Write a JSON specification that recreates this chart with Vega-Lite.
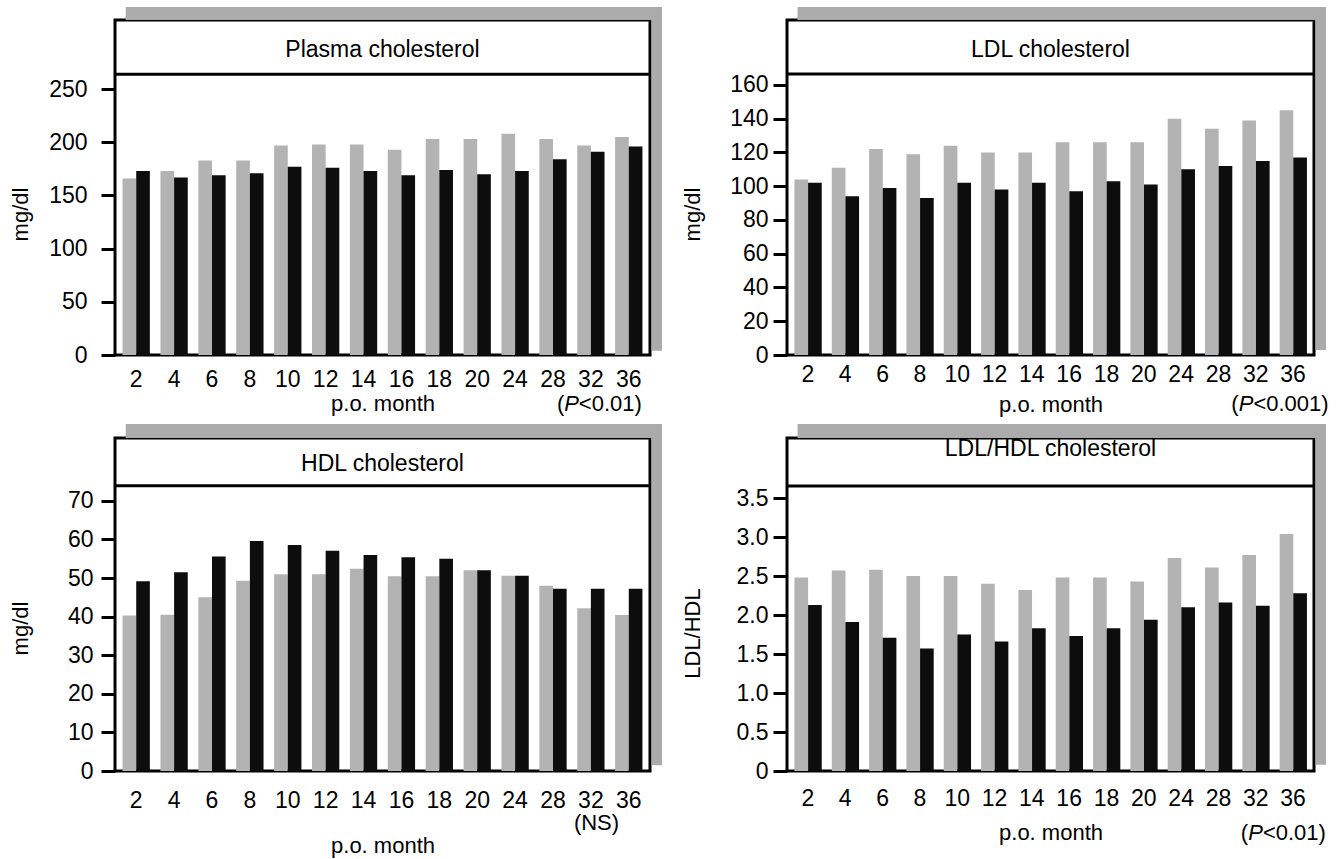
{
  "$schema": "https://vega.github.io/schema/vega-lite/v6.json",
  "background": "white",
  "padding": {"left": 7, "top": 5, "right": 5, "bottom": 5},
  "columns": 2,
  "spacing": {"row": 5, "column": 15},
  "config": {
    "view": {"stroke": "#000", "strokeWidth": 3},
    "axis": {"labelFont": "Liberation Sans", "titleFont": "Liberation Sans", "labelFontSize": 23, "titleFontSize": 22, "titleFontWeight": "normal", "labelColor": "#000", "titleColor": "#000", "tickColor": "#000", "grid": false},
    "text": {"font": "Liberation Sans", "fontSize": 22, "color": "#000", "baseline": "middle"}
  },
  "datasets": {
    "one": [{}],
    "plasma": [
      {"month": "2", "group": "A", "value": 166}, {"month": "2", "group": "B", "value": 173},
      {"month": "4", "group": "A", "value": 173}, {"month": "4", "group": "B", "value": 167},
      {"month": "6", "group": "A", "value": 183}, {"month": "6", "group": "B", "value": 169},
      {"month": "8", "group": "A", "value": 183}, {"month": "8", "group": "B", "value": 171},
      {"month": "10", "group": "A", "value": 197}, {"month": "10", "group": "B", "value": 177},
      {"month": "12", "group": "A", "value": 198}, {"month": "12", "group": "B", "value": 176},
      {"month": "14", "group": "A", "value": 198}, {"month": "14", "group": "B", "value": 173},
      {"month": "16", "group": "A", "value": 193}, {"month": "16", "group": "B", "value": 169},
      {"month": "18", "group": "A", "value": 203}, {"month": "18", "group": "B", "value": 174},
      {"month": "20", "group": "A", "value": 203}, {"month": "20", "group": "B", "value": 170},
      {"month": "24", "group": "A", "value": 208}, {"month": "24", "group": "B", "value": 173},
      {"month": "28", "group": "A", "value": 203}, {"month": "28", "group": "B", "value": 184},
      {"month": "32", "group": "A", "value": 197}, {"month": "32", "group": "B", "value": 191},
      {"month": "36", "group": "A", "value": 205}, {"month": "36", "group": "B", "value": 196}
    ],
    "ldl": [
      {"month": "2", "group": "A", "value": 104}, {"month": "2", "group": "B", "value": 102},
      {"month": "4", "group": "A", "value": 111}, {"month": "4", "group": "B", "value": 94},
      {"month": "6", "group": "A", "value": 122}, {"month": "6", "group": "B", "value": 99},
      {"month": "8", "group": "A", "value": 119}, {"month": "8", "group": "B", "value": 93},
      {"month": "10", "group": "A", "value": 124}, {"month": "10", "group": "B", "value": 102},
      {"month": "12", "group": "A", "value": 120}, {"month": "12", "group": "B", "value": 98},
      {"month": "14", "group": "A", "value": 120}, {"month": "14", "group": "B", "value": 102},
      {"month": "16", "group": "A", "value": 126}, {"month": "16", "group": "B", "value": 97},
      {"month": "18", "group": "A", "value": 126}, {"month": "18", "group": "B", "value": 103},
      {"month": "20", "group": "A", "value": 126}, {"month": "20", "group": "B", "value": 101},
      {"month": "24", "group": "A", "value": 140}, {"month": "24", "group": "B", "value": 110},
      {"month": "28", "group": "A", "value": 134}, {"month": "28", "group": "B", "value": 112},
      {"month": "32", "group": "A", "value": 139}, {"month": "32", "group": "B", "value": 115},
      {"month": "36", "group": "A", "value": 145}, {"month": "36", "group": "B", "value": 117}
    ],
    "hdl": [
      {"month": "2", "group": "A", "value": 40.3}, {"month": "2", "group": "B", "value": 49.2},
      {"month": "4", "group": "A", "value": 40.5}, {"month": "4", "group": "B", "value": 51.5},
      {"month": "6", "group": "A", "value": 45}, {"month": "6", "group": "B", "value": 55.6},
      {"month": "8", "group": "A", "value": 49.3}, {"month": "8", "group": "B", "value": 59.6},
      {"month": "10", "group": "A", "value": 51}, {"month": "10", "group": "B", "value": 58.6},
      {"month": "12", "group": "A", "value": 51}, {"month": "12", "group": "B", "value": 57.1},
      {"month": "14", "group": "A", "value": 52.4}, {"month": "14", "group": "B", "value": 56},
      {"month": "16", "group": "A", "value": 50.5}, {"month": "16", "group": "B", "value": 55.4},
      {"month": "18", "group": "A", "value": 50.5}, {"month": "18", "group": "B", "value": 55},
      {"month": "20", "group": "A", "value": 52}, {"month": "20", "group": "B", "value": 52},
      {"month": "24", "group": "A", "value": 50.6}, {"month": "24", "group": "B", "value": 50.6},
      {"month": "28", "group": "A", "value": 48}, {"month": "28", "group": "B", "value": 47.2},
      {"month": "32", "group": "A", "value": 42.2}, {"month": "32", "group": "B", "value": 47.2},
      {"month": "36", "group": "A", "value": 40.4}, {"month": "36", "group": "B", "value": 47.2}
    ],
    "ratio": [
      {"month": "2", "group": "A", "value": 2.48}, {"month": "2", "group": "B", "value": 2.13},
      {"month": "4", "group": "A", "value": 2.57}, {"month": "4", "group": "B", "value": 1.91},
      {"month": "6", "group": "A", "value": 2.58}, {"month": "6", "group": "B", "value": 1.71},
      {"month": "8", "group": "A", "value": 2.5}, {"month": "8", "group": "B", "value": 1.57},
      {"month": "10", "group": "A", "value": 2.5}, {"month": "10", "group": "B", "value": 1.75},
      {"month": "12", "group": "A", "value": 2.4}, {"month": "12", "group": "B", "value": 1.66},
      {"month": "14", "group": "A", "value": 2.32}, {"month": "14", "group": "B", "value": 1.83},
      {"month": "16", "group": "A", "value": 2.48}, {"month": "16", "group": "B", "value": 1.73},
      {"month": "18", "group": "A", "value": 2.48}, {"month": "18", "group": "B", "value": 1.83},
      {"month": "20", "group": "A", "value": 2.43}, {"month": "20", "group": "B", "value": 1.94},
      {"month": "24", "group": "A", "value": 2.73}, {"month": "24", "group": "B", "value": 2.1},
      {"month": "28", "group": "A", "value": 2.61}, {"month": "28", "group": "B", "value": 2.16},
      {"month": "32", "group": "A", "value": 2.77}, {"month": "32", "group": "B", "value": 2.12},
      {"month": "36", "group": "A", "value": 3.04}, {"month": "36", "group": "B", "value": 2.28}
    ]
  },
  "concat": [
    {
      "width": 535, "height": 335,
      "resolve": {"scale": {"x": "independent"}, "axis": {"x": "independent", "y": "independent"}},
      "layer": [
        {
          "data": {"name": "plasma"},
          "mark": {"type": "bar"},
          "encoding": {
            "x": {"field": "month", "type": "ordinal", "sort": ["2","4","6","8","10","12","14","16","18","20","24","28","32","36"], "scale": {"paddingInner": 0.28, "paddingOuter": 0.2}, "axis": {"title": "p.o. month", "labelAngle": 0, "ticks": false, "domain": false, "labelPadding": 13, "titlePadding": 2}},
            "xOffset": {"field": "group", "type": "nominal", "sort": ["A", "B"], "scale": {"paddingInner": 0, "paddingOuter": 0}},
            "y": {"field": "value", "type": "quantitative", "scale": {"domain": [0, 315], "nice": false}, "axis": {"title": "mg/dl", "values": [0, 50, 100, 150, 200, 250], "domain": false, "ticks": true, "tickSize": 14, "tickWidth": 3, "tickColor": "#000", "labelPadding": 14, "titleX": -95, "titleY": 194, "titleBaseline": "middle"}},
            "color": {"field": "group", "type": "nominal", "scale": {"domain": ["A", "B"], "range": ["#b3b3b3", "#0d0d0d"]}, "legend": null}
          }
        },
        {"data": {"name": "one"}, "mark": {"type": "rect", "fill": "#ababab", "clip": false}, "encoding": {"x": {"datum": 0.02, "type": "quantitative", "scale": {"domain": [0, 1]}, "axis": null}, "x2": {"datum": 1.0224}, "y": {"datum": 315, "type": "quantitative", "axis": null}, "y2": {"datum": 327.2}}},
        {"data": {"name": "one"}, "mark": {"type": "rect", "fill": "#ababab", "clip": false}, "encoding": {"x": {"datum": 1.003, "type": "quantitative", "scale": {"domain": [0, 1]}, "axis": null}, "x2": {"datum": 1.0224}, "y": {"datum": 4, "type": "quantitative", "axis": null}, "y2": {"datum": 327.2}}},
        {"data": {"name": "one"}, "mark": {"type": "rule", "stroke": "#000", "strokeWidth": 3}, "encoding": {"y": {"datum": 264, "type": "quantitative", "axis": null}}},
        {"data": {"name": "one"}, "mark": {"type": "text", "fontSize": 23, "align": "center"}, "encoding": {"text": {"value": "Plasma cholesterol"}, "x": {"datum": 0.5, "type": "quantitative", "scale": {"domain": [0, 1]}, "axis": null}, "y": {"datum": 286.7, "type": "quantitative", "axis": null}}},
        {"data": {"name": "one"}, "mark": {"type": "text", "align": "right"}, "encoding": {"text": {"value": "("}, "x": {"datum": 0.84, "type": "quantitative", "scale": {"domain": [0, 1]}, "axis": null}, "y": {"datum": -46, "type": "quantitative", "axis": null}}},
        {"data": {"name": "one"}, "mark": {"type": "text", "align": "right", "fontStyle": "italic"}, "encoding": {"text": {"value": "P"}, "x": {"datum": 0.867, "type": "quantitative", "scale": {"domain": [0, 1]}, "axis": null}, "y": {"datum": -46, "type": "quantitative", "axis": null}}},
        {"data": {"name": "one"}, "mark": {"type": "text", "align": "left"}, "encoding": {"text": {"value": "<0.01)"}, "x": {"datum": 0.867, "type": "quantitative", "scale": {"domain": [0, 1]}, "axis": null}, "y": {"datum": -46, "type": "quantitative", "axis": null}}}
      ]
    },
    {
      "width": 527, "height": 335,
      "resolve": {"scale": {"x": "independent"}, "axis": {"x": "independent", "y": "independent"}},
      "layer": [
        {
          "data": {"name": "ldl"},
          "mark": {"type": "bar"},
          "encoding": {
            "x": {"field": "month", "type": "ordinal", "sort": ["2","4","6","8","10","12","14","16","18","20","24","28","32","36"], "scale": {"paddingInner": 0.28, "paddingOuter": 0.2}, "axis": {"title": "p.o. month", "labelAngle": 0, "ticks": false, "domain": false, "labelPadding": 8, "titlePadding": 8}},
            "xOffset": {"field": "group", "type": "nominal", "sort": ["A", "B"], "scale": {"paddingInner": 0, "paddingOuter": 0}},
            "y": {"field": "value", "type": "quantitative", "scale": {"domain": [0, 198.5], "nice": false}, "axis": {"title": "mg/dl", "values": [0, 20, 40, 60, 80, 100, 120, 140, 160], "domain": false, "ticks": true, "tickSize": 14, "tickWidth": 3, "tickColor": "#000", "labelPadding": 5, "titleX": -95, "titleY": 194, "titleBaseline": "middle"}},
            "color": {"field": "group", "type": "nominal", "scale": {"domain": ["A", "B"], "range": ["#b3b3b3", "#0d0d0d"]}, "legend": null}
          }
        },
        {"data": {"name": "one"}, "mark": {"type": "rect", "fill": "#ababab", "clip": false}, "encoding": {"x": {"datum": 0.02, "type": "quantitative", "scale": {"domain": [0, 1]}, "axis": null}, "x2": {"datum": 1.0228}, "y": {"datum": 198.5, "type": "quantitative", "axis": null}, "y2": {"datum": 206.2}}},
        {"data": {"name": "one"}, "mark": {"type": "rect", "fill": "#ababab", "clip": false}, "encoding": {"x": {"datum": 1.003, "type": "quantitative", "scale": {"domain": [0, 1]}, "axis": null}, "x2": {"datum": 1.0228}, "y": {"datum": 3, "type": "quantitative", "axis": null}, "y2": {"datum": 206.2}}},
        {"data": {"name": "one"}, "mark": {"type": "rule", "stroke": "#000", "strokeWidth": 3}, "encoding": {"y": {"datum": 166.5, "type": "quantitative", "axis": null}}},
        {"data": {"name": "one"}, "mark": {"type": "text", "fontSize": 23, "align": "center"}, "encoding": {"text": {"value": "LDL cholesterol"}, "x": {"datum": 0.5, "type": "quantitative", "scale": {"domain": [0, 1]}, "axis": null}, "y": {"datum": 180.7, "type": "quantitative", "axis": null}}},
        {"data": {"name": "one"}, "mark": {"type": "text", "align": "right"}, "encoding": {"text": {"value": "("}, "x": {"datum": 0.857, "type": "quantitative", "scale": {"domain": [0, 1]}, "axis": null}, "y": {"datum": -29, "type": "quantitative", "axis": null}}},
        {"data": {"name": "one"}, "mark": {"type": "text", "align": "right", "fontStyle": "italic"}, "encoding": {"text": {"value": "P"}, "x": {"datum": 0.885, "type": "quantitative", "scale": {"domain": [0, 1]}, "axis": null}, "y": {"datum": -29, "type": "quantitative", "axis": null}}},
        {"data": {"name": "one"}, "mark": {"type": "text", "align": "left"}, "encoding": {"text": {"value": "<0.001)"}, "x": {"datum": 0.885, "type": "quantitative", "scale": {"domain": [0, 1]}, "axis": null}, "y": {"datum": -29, "type": "quantitative", "axis": null}}}
      ]
    },
    {
      "width": 535, "height": 333,
      "resolve": {"scale": {"x": "independent"}, "axis": {"x": "independent", "y": "independent"}},
      "layer": [
        {
          "data": {"name": "hdl"},
          "mark": {"type": "bar"},
          "encoding": {
            "x": {"field": "month", "type": "ordinal", "sort": ["2","4","6","8","10","12","14","16","18","20","24","28","32","36"], "scale": {"paddingInner": 0.28, "paddingOuter": 0.2}, "axis": {"title": "p.o. month", "labelAngle": 0, "ticks": false, "domain": false, "labelPadding": 18, "titlePadding": 23}},
            "xOffset": {"field": "group", "type": "nominal", "sort": ["A", "B"], "scale": {"paddingInner": 0, "paddingOuter": 0}},
            "y": {"field": "value", "type": "quantitative", "scale": {"domain": [0, 86.3], "nice": false}, "axis": {"title": "mg/dl", "values": [0, 10, 20, 30, 40, 50, 60, 70], "domain": false, "ticks": true, "tickSize": 14, "tickWidth": 3, "tickColor": "#000", "labelPadding": 8, "titleX": -95, "titleY": 190, "titleBaseline": "middle"}},
            "color": {"field": "group", "type": "nominal", "scale": {"domain": ["A", "B"], "range": ["#b3b3b3", "#0d0d0d"]}, "legend": null}
          }
        },
        {"data": {"name": "one"}, "mark": {"type": "rect", "fill": "#ababab", "clip": false}, "encoding": {"x": {"datum": 0.02, "type": "quantitative", "scale": {"domain": [0, 1]}, "axis": null}, "x2": {"datum": 1.0224}, "y": {"datum": 86.3, "type": "quantitative", "axis": null}, "y2": {"datum": 89.9}}},
        {"data": {"name": "one"}, "mark": {"type": "rect", "fill": "#ababab", "clip": false}, "encoding": {"x": {"datum": 1.003, "type": "quantitative", "scale": {"domain": [0, 1]}, "axis": null}, "x2": {"datum": 1.0224}, "y": {"datum": 1.5, "type": "quantitative", "axis": null}, "y2": {"datum": 89.9}}},
        {"data": {"name": "one"}, "mark": {"type": "rule", "stroke": "#000", "strokeWidth": 3}, "encoding": {"y": {"datum": 73.9, "type": "quantitative", "axis": null}}},
        {"data": {"name": "one"}, "mark": {"type": "text", "fontSize": 23, "align": "center"}, "encoding": {"text": {"value": "HDL cholesterol"}, "x": {"datum": 0.5, "type": "quantitative", "scale": {"domain": [0, 1]}, "axis": null}, "y": {"datum": 79.6, "type": "quantitative", "axis": null}}},
        {"data": {"name": "one"}, "mark": {"type": "text", "align": "center"}, "encoding": {"text": {"value": "(NS)"}, "x": {"datum": 0.9, "type": "quantitative", "scale": {"domain": [0, 1]}, "axis": null}, "y": {"datum": -13.5, "type": "quantitative", "axis": null}}}
      ]
    },
    {
      "width": 527, "height": 333,
      "resolve": {"scale": {"x": "independent"}, "axis": {"x": "independent", "y": "independent"}},
      "layer": [
        {
          "data": {"name": "ratio"},
          "mark": {"type": "bar"},
          "encoding": {
            "x": {"field": "month", "type": "ordinal", "sort": ["2","4","6","8","10","12","14","16","18","20","24","28","32","36"], "scale": {"paddingInner": 0.28, "paddingOuter": 0.2}, "axis": {"title": "p.o. month", "labelAngle": 0, "ticks": false, "domain": false, "labelPadding": 16, "titlePadding": 12}},
            "xOffset": {"field": "group", "type": "nominal", "sort": ["A", "B"], "scale": {"paddingInner": 0, "paddingOuter": 0}},
            "y": {"field": "value", "type": "quantitative", "scale": {"domain": [0, 4.27], "nice": false}, "axis": {"title": "LDL/HDL", "values": [0, 0.5, 1, 1.5, 2, 2.5, 3, 3.5], "labelExpr": "datum.value == 0 ? '0' : format(datum.value, '.1f')", "domain": false, "ticks": true, "tickSize": 14, "tickWidth": 3, "tickColor": "#000", "labelPadding": 5, "titleX": -95, "titleY": 195, "titleBaseline": "middle"}},
            "color": {"field": "group", "type": "nominal", "scale": {"domain": ["A", "B"], "range": ["#b3b3b3", "#0d0d0d"]}, "legend": null}
          }
        },
        {"data": {"name": "one"}, "mark": {"type": "rect", "fill": "#ababab", "clip": false}, "encoding": {"x": {"datum": 0.02, "type": "quantitative", "scale": {"domain": [0, 1]}, "axis": null}, "x2": {"datum": 1.0228}, "y": {"datum": 4.27, "type": "quantitative", "axis": null}, "y2": {"datum": 4.45}}},
        {"data": {"name": "one"}, "mark": {"type": "rect", "fill": "#ababab", "clip": false}, "encoding": {"x": {"datum": 1.003, "type": "quantitative", "scale": {"domain": [0, 1]}, "axis": null}, "x2": {"datum": 1.0228}, "y": {"datum": 0.08, "type": "quantitative", "axis": null}, "y2": {"datum": 4.45}}},
        {"data": {"name": "one"}, "mark": {"type": "rule", "stroke": "#000", "strokeWidth": 3}, "encoding": {"y": {"datum": 3.654, "type": "quantitative", "axis": null}}},
        {"data": {"name": "one"}, "mark": {"type": "text", "fontSize": 23, "align": "center"}, "encoding": {"text": {"value": "LDL/HDL cholesterol"}, "x": {"datum": 0.5, "type": "quantitative", "scale": {"domain": [0, 1]}, "axis": null}, "y": {"datum": 4.13, "type": "quantitative", "axis": null}}},
        {"data": {"name": "one"}, "mark": {"type": "text", "align": "right"}, "encoding": {"text": {"value": "("}, "x": {"datum": 0.875, "type": "quantitative", "scale": {"domain": [0, 1]}, "axis": null}, "y": {"datum": -0.795, "type": "quantitative", "axis": null}}},
        {"data": {"name": "one"}, "mark": {"type": "text", "align": "right", "fontStyle": "italic"}, "encoding": {"text": {"value": "P"}, "x": {"datum": 0.903, "type": "quantitative", "scale": {"domain": [0, 1]}, "axis": null}, "y": {"datum": -0.795, "type": "quantitative", "axis": null}}},
        {"data": {"name": "one"}, "mark": {"type": "text", "align": "left"}, "encoding": {"text": {"value": "<0.01)"}, "x": {"datum": 0.903, "type": "quantitative", "scale": {"domain": [0, 1]}, "axis": null}, "y": {"datum": -0.795, "type": "quantitative", "axis": null}}}
      ]
    }
  ]
}
